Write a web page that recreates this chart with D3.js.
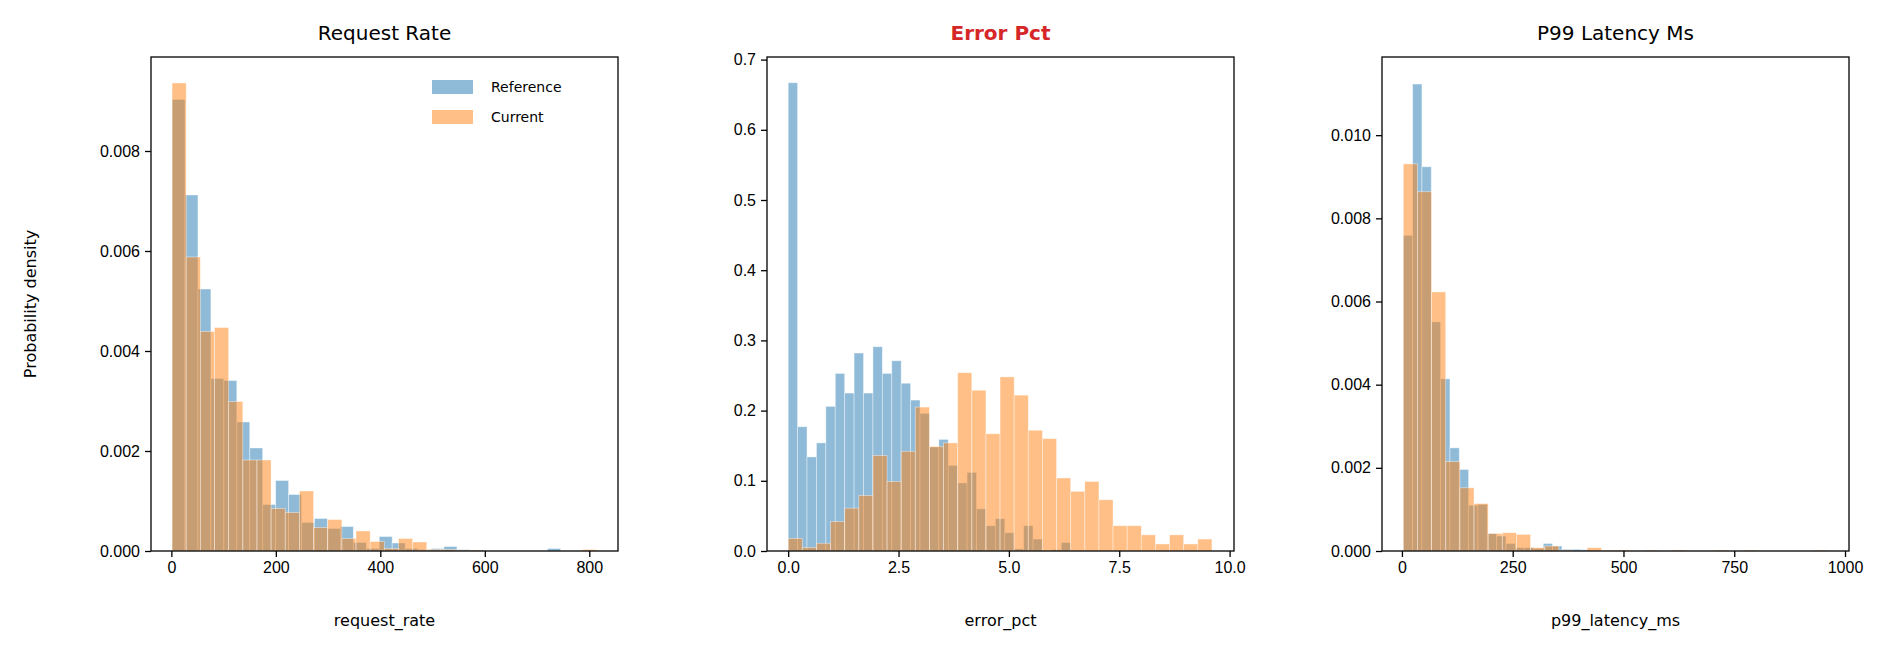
<!DOCTYPE html>
<html><head><meta charset="utf-8">
<script src="https://cdn.jsdelivr.net/npm/d3@7"></script>
<style>body{margin:0;background:#fff}svg{font-family:"DejaVu Sans",sans-serif}</style>
</head><body><svg id="c" width="1899" height="652"></svg>
<script>
// ---- data ----
const titles = ["Request Rate", "Error Pct", "P99 Latency Ms"];
const xLabels = ["request_rate", "error_pct", "p99_latency_ms"];
const seriesNames = ["Reference", "Current"];
// bin ranges [min, max] for each panel, 30 bins each
const refRange = [[1.3, 745], [0, 6.4], [3, 635]];
const curRange = [[1.3, 814], [0, 9.6], [3, 961]];
const refReq = [0.00903,0.00712,0.00524,0.00345,0.00341,0.00258,0.00206,0.00093,0.00141,0.00113,0.00057,0.00065,0.00045,0.00049,0.00017,0.00005,0.00029,0.00016,0.00005,0.00003,0.00005,0.00009,0.00003,0.00002,0,0,0,0,0,0.00005];
const curReq = [0.00936,0.00588,0.00439,0.00447,0.00299,0.00182,0.00182,0.00085,0.00077,0.00120,0.00047,0.00063,0.00025,0.00040,0.00019,0.00005,0.00025,0.00018,0.00003,0.00003,0.00002,0.00002,0,0,0,0,0,0,0,0.00003];
const refErr = [0.667,0.177,0.134,0.154,0.206,0.253,0.225,0.282,0.225,0.291,0.253,0.271,0.239,0.215,0.196,0.148,0.159,0.122,0.097,0.112,0.060,0.036,0.046,0.026,0.003,0.036,0.017,0,0.002,0.012];
const curErr = [0.018,0.005,0.011,0.042,0.061,0.079,0.136,0.099,0.142,0.205,0.149,0.154,0.254,0.229,0.167,0.248,0.222,0.172,0.160,0.104,0.085,0.099,0.073,0.036,0.036,0.023,0.010,0.023,0.010,0.017];
const refLat = [0.00759,0.01123,0.00924,0.00551,0.00414,0.00248,0.00196,0.00110,0.00112,0.00042,0.00036,0.00018,0.00008,0.00008,0.00006,0.00018,0.00012,0.00004,0.00004,0.00003,0.00002,0,0,0.00002,0,0,0,0,0,0.00002];
const curLat = [0.00931,0.00864,0.00623,0.00215,0.00152,0.00114,0.00042,0.00044,0.00040,0.00008,0.00012,0.00002,0,0.00008,0.00002,0.00002,0,0.00002,0,0.00002,0,0,0.00002,0,0.00002,0,0,0,0,0.00002];
const xTicks = [[0,200,400,600,800],[0,2.5,5,7.5,10],[0,250,500,750,1000]];
const yTicks = [[0,0.002,0.004,0.006,0.008],[0,0.1,0.2,0.3,0.4,0.5,0.6,0.7],[0,0.002,0.004,0.006,0.008,0.010]];
const xDomains = [[-39,855],[-0.48,10.1],[-45,1009]];
const yMax = [0.00988, 0.7037, 0.01188];
const refVals = [refReq, refErr, refLat];
const curVals = [curReq, curErr, curLat];

// ---- layout ----
const svg = d3.select("#c");
const lefts = [151, 767, 1382], pw = 467, topY = 57, bottomY = 551;
const colors = ["#1f77b4", "#ff7f0e"];
const xFmt = [d3.format("d"), d3.format(".1f"), d3.format("d")];
const yFmt = [d3.format(".3f"), d3.format(".1f"), d3.format(".3f")];

function makeBins(range, vals) {
  const bw = (range[1] - range[0]) / vals.length;
  return vals.map((v, i) => ({x0: range[0] + i * bw, x1: range[0] + (i + 1) * bw, v}));
}

for (let p = 0; p < 3; p++) {
  const x = d3.scaleLinear().domain(xDomains[p]).range([lefts[p], lefts[p] + pw]);
  const y = d3.scaleLinear().domain([0, yMax[p]]).range([bottomY, topY]);
  const g = svg.append("g");
  [[refRange[p], refVals[p], 0], [curRange[p], curVals[p], 1]].forEach(([r, vals, s]) => {
    g.selectAll(null).data(makeBins(r, vals).filter(d => d.v > 0)).enter().append("rect")
      .attr("x", d => x(d.x0)).attr("width", d => x(d.x1) - x(d.x0))
      .attr("y", d => y(d.v)).attr("height", d => bottomY - y(d.v))
      .attr("fill", colors[s]).attr("fill-opacity", 0.5)
      .attr("stroke", "#fff").attr("stroke-opacity", 0.5).attr("stroke-width", 0.8);
  });
  g.append("rect").attr("x", lefts[p]).attr("y", topY).attr("width", pw).attr("height", bottomY - topY)
    .attr("fill", "none").attr("stroke", "#000").attr("stroke-width", 1.3);
  const xa = g.append("g").attr("transform", `translate(0,${bottomY})`)
    .call(d3.axisBottom(x).tickValues(xTicks[p]).tickFormat(xFmt[p]).tickSize(6).tickPadding(5));
  const ya = g.append("g").attr("transform", `translate(${lefts[p]},0)`)
    .call(d3.axisLeft(y).tickValues(yTicks[p]).tickFormat(yFmt[p]).tickSize(6).tickPadding(5));
  [xa, ya].forEach(a => {
    a.select(".domain").remove();
    a.selectAll("line").attr("stroke-width", 1.3);
    a.selectAll("text").attr("font-size", 16).attr("fill", "#000");
  });
  g.append("text").attr("x", lefts[p] + pw / 2).attr("y", 626).attr("text-anchor", "middle")
    .attr("font-size", 16).text(xLabels[p]);
  g.append("text").attr("x", lefts[p] + pw / 2).attr("y", 40).attr("text-anchor", "middle")
    .attr("font-size", 20).attr("fill", p === 1 ? "#d62728" : "#000")
    .attr("font-weight", p === 1 ? "bold" : "normal").text(titles[p]);
}
svg.append("text").attr("transform", "translate(36,304) rotate(-90)").attr("text-anchor", "middle")
  .attr("font-size", 16).text("Probability density");
// legend
seriesNames.forEach((n, i) => {
  svg.append("rect").attr("x", 432).attr("y", 80 + i * 30).attr("width", 41).attr("height", 14)
    .attr("fill", colors[i]).attr("fill-opacity", 0.5);
  svg.append("text").attr("x", 491).attr("y", 92 + i * 30).attr("font-size", 14).text(n);
});
</script></body></html>
